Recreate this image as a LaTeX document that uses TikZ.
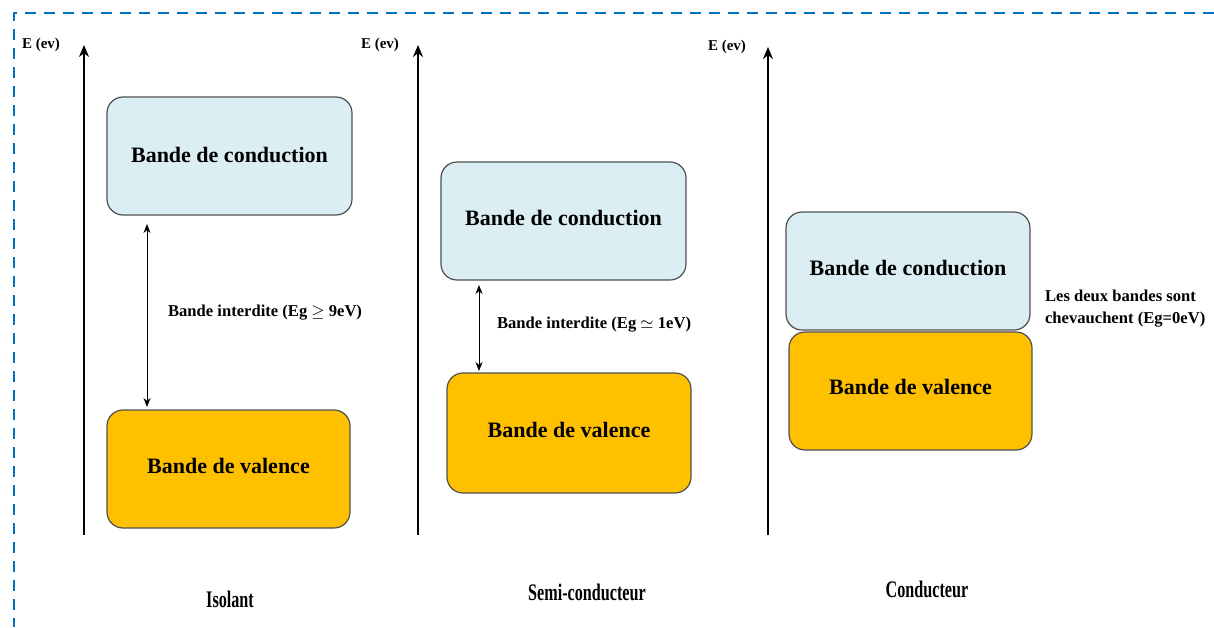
\documentclass[tikz,border=0pt]{standalone}
\usepackage{fontspec}
\setmainfont{Liberation Serif}
\usetikzlibrary{arrows.meta}
\definecolor{condfill}{RGB}{219,238,244}
\definecolor{valfill}{RGB}{255,192,0}
\definecolor{frameblue}{RGB}{0,112,192}
\definecolor{boxline}{RGB}{80,80,80}
\tikzset{
  band/.style={draw=boxline, line width=0.6pt, rounded corners=8pt, inner sep=0pt},
  cond/.style={band, fill=condfill},
  val/.style={band, fill=valfill},
  axis/.style={line width=1.2pt, -{Stealth[length=6pt,width=5pt]}},
  gap/.style={line width=0.5pt, {Stealth[length=4.5pt,width=3.5pt]}-{Stealth[length=4.5pt,width=3.5pt]}},
  bandtxt/.style={font=\bfseries\fontsize{11}{13}\selectfont},
  smalltxt/.style={font=\bfseries\fontsize{8.3}{11}\selectfont, align=left},
  etxt/.style={font=\bfseries\fontsize{7.5}{9}\selectfont},
  titletxt/.style={font=\bfseries\fontsize{9.5}{11}\selectfont, yscale=1.25, xscale=0.85},
}
\begin{document}
\begin{tikzpicture}[x=0.5pt,y=-0.5pt]
\useasboundingbox (0,0) rectangle (1214,627);
% dashed frame (top and left visible)
\draw[frameblue, line width=1.4pt, dash pattern=on 5.5pt off 4pt] (1214,13) -- (14,13) -- (14,627);

% ---------- Isolant ----------
\coordinate (a1s) at (84,535);
\coordinate (a1e) at (84,45);
\draw[axis] (a1s) -- (a1e);
\node[etxt, anchor=west] (e1) at (15,45) {E (ev)};
\path[cond] (107,97) rectangle (352,215);
\node[bandtxt] (c1) at (229.5,155) {Bande de conduction};
\coordinate (c1b) at (147,224);
\path[val] (107,410) rectangle (350,528);
\node[bandtxt] (v1) at (228.5,466) {Bande de valence};
\coordinate (v1t) at (147,407);
\draw[gap] (c1b) -- (v1t);
\node[smalltxt, anchor=west] (g1) at (161,313) {Bande interdite (Eg $\geq$ 9eV)};
\node[titletxt] (t1) at (230,599) {Isolant};

% ---------- Semi-conducteur ----------
\coordinate (a2s) at (418,535);
\coordinate (a2e) at (418,45);
\draw[axis] (a2s) -- (a2e);
\node[etxt, anchor=west] (e2) at (354,45) {E (ev)};
\path[cond] (441,162) rectangle (686,280);
\node[bandtxt] (c2) at (563.5,218) {Bande de conduction};
\coordinate (c2b) at (479,285);
\path[val] (447,373) rectangle (691,493);
\node[bandtxt] (v2) at (569,430) {Bande de valence};
\coordinate (v2t) at (479,371);
\draw[gap] (c2b) -- (v2t);
\node[smalltxt, anchor=west] (g2) at (490,325) {Bande interdite (Eg $\simeq$ 1eV)};
\node[titletxt] (t2) at (587,592) {Semi-conducteur};

% ---------- Conducteur ----------
\coordinate (a3s) at (768,535);
\coordinate (a3e) at (768,47);
\draw[axis] (a3s) -- (a3e);
\node[etxt, anchor=west] (e3) at (701,47) {E (ev)};
\path[val] (789,332) rectangle (1032,450);
\path[cond] (786,212) rectangle (1030,330);
\node[bandtxt] (c3) at (908,268) {Bande de conduction};
\node[bandtxt] (v3) at (910.5,387) {Bande de valence};
\node[smalltxt, anchor=west] (g3) at (1038,309) {Les deux bandes sont\\chevauchent (Eg=0eV)};
\node[titletxt] (t3) at (927,589) {Conducteur};
\end{tikzpicture}
\end{document}
